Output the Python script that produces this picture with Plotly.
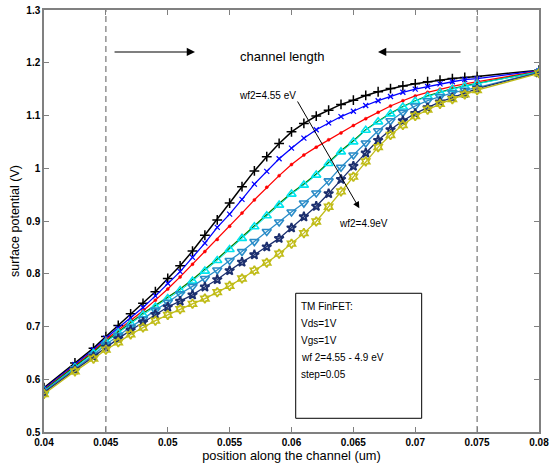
import plotly.graph_objects as go

x_pos = [0.04, 0.0425, 0.044, 0.045, 0.046, 0.047, 0.048, 0.049, 0.050, 0.051, 0.052,
         0.053, 0.054, 0.055, 0.056, 0.057, 0.058, 0.059, 0.060, 0.061, 0.062, 0.063,
         0.064, 0.065, 0.066, 0.067, 0.068, 0.069, 0.070, 0.071, 0.072, 0.073, 0.074,
         0.075, 0.08]

wf_455 = [0.584, 0.631, 0.659, 0.681, 0.702, 0.724, 0.744, 0.766, 0.791, 0.815, 0.843,
          0.873, 0.902, 0.934, 0.965, 0.995, 1.022, 1.047, 1.069, 1.085, 1.099, 1.110,
          1.121, 1.129, 1.138, 1.145, 1.151, 1.156, 1.160, 1.164, 1.167, 1.170, 1.172,
          1.174, 1.186]
wf_460 = [0.582, 0.628, 0.656, 0.678, 0.697, 0.716, 0.736, 0.758, 0.782, 0.804, 0.831,
          0.858, 0.888, 0.913, 0.941, 0.970, 0.994, 1.018, 1.038, 1.057, 1.073, 1.086,
          1.098, 1.108, 1.119, 1.128, 1.136, 1.144, 1.150, 1.155, 1.160, 1.164, 1.168,
          1.170, 1.185]
wf_465 = [0.580, 0.626, 0.653, 0.675, 0.693, 0.711, 0.730, 0.750, 0.771, 0.794, 0.818,
          0.842, 0.865, 0.890, 0.915, 0.940, 0.964, 0.986, 1.007, 1.025, 1.040, 1.054,
          1.067, 1.081, 1.094, 1.106, 1.118, 1.128, 1.137, 1.144, 1.150, 1.155, 1.160,
          1.164, 1.184]
wf_470 = [0.579, 0.624, 0.651, 0.672, 0.690, 0.708, 0.725, 0.740, 0.756, 0.771, 0.789,
          0.808, 0.828, 0.849, 0.870, 0.892, 0.913, 0.933, 0.953, 0.970, 0.989, 1.011,
          1.033, 1.052, 1.073, 1.089, 1.104, 1.117, 1.128, 1.137, 1.144, 1.151, 1.156,
          1.161, 1.183]
wf_475 = [0.578, 0.622, 0.649, 0.670, 0.688, 0.705, 0.722, 0.737, 0.753, 0.768, 0.786,
          0.805, 0.825, 0.846, 0.867, 0.889, 0.910, 0.930, 0.951, 0.968, 0.987, 1.009,
          1.031, 1.050, 1.072, 1.088, 1.103, 1.116, 1.127, 1.136, 1.143, 1.150, 1.155,
          1.160, 1.183]
wf_480 = [0.577, 0.620, 0.646, 0.666, 0.683, 0.699, 0.714, 0.731, 0.746, 0.762, 0.776,
          0.791, 0.807, 0.825, 0.842, 0.861, 0.880, 0.898, 0.917, 0.934, 0.953, 0.976,
          1.002, 1.025, 1.048, 1.071, 1.090, 1.106, 1.118, 1.128, 1.136, 1.143, 1.148,
          1.153, 1.182]
wf_485 = [0.575, 0.618, 0.643, 0.661, 0.677, 0.693, 0.708, 0.723, 0.737, 0.748, 0.760,
          0.775, 0.789, 0.806, 0.822, 0.836, 0.851, 0.867, 0.887, 0.908, 0.928, 0.952,
          0.979, 1.004, 1.029, 1.053, 1.073, 1.090, 1.104, 1.115, 1.126, 1.134, 1.142,
          1.151, 1.181]
wf_490 = [0.572, 0.615, 0.639, 0.656, 0.670, 0.685, 0.698, 0.711, 0.722, 0.733, 0.743,
          0.753, 0.765, 0.777, 0.791, 0.806, 0.821, 0.838, 0.857, 0.877, 0.899, 0.927,
          0.956, 0.984, 1.013, 1.040, 1.063, 1.082, 1.099, 1.111, 1.122, 1.131, 1.140,
          1.148, 1.180]

series = [
    ("wf2=4.55", wf_455, "#000000", "cross-thin", 7, 1.5, 1.5),
    ("wf2=4.60", wf_460, "#0000FF", "x-thin", 5, 1.3, 1.2),
    ("wf2=4.65", wf_465, "#FF0000", "circle", 3, 1.3, 0.5),
    ("wf2=4.70", wf_470, "#008000", None, 0, 1.3, 0),
    ("wf2=4.75", wf_475, "#00E5EE", "triangle-up-open", 8, 1.0, 1.6),
    ("wf2=4.80", wf_480, "#2A8CC8", "triangle-down-open", 8, 1.3, 1.6),
    ("wf2=4.85", wf_485, "#1B2E6E", "star-open", 7, 1.3, 1.8),
    ("wf2=4.90", wf_490, "#C0BC18", "hexagram-open", 7, 1.3, 1.7),
]

fig = go.Figure()
for name, ys, col, sym, size, lw, mlw in series:
    if sym is None:
        fig.add_trace(go.Scatter(x=x_pos, y=ys, mode="lines", name=name,
                                 line=dict(color=col, width=lw)))
    else:
        fig.add_trace(go.Scatter(x=x_pos, y=ys, mode="lines+markers", name=name,
                                 line=dict(color=col, width=lw),
                                 marker=dict(symbol=sym, size=size, color=col,
                                             line=dict(color=col, width=mlw))))

FONT = "Liberation Sans, Arial, sans-serif"

shapes = [
    dict(type="line", xref="x", yref="paper", x0=0.045, x1=0.045, y0=0, y1=1,
         line=dict(color="#808080", width=1.3, dash="6px,4px")),
    dict(type="line", xref="x", yref="paper", x0=0.075, x1=0.075, y0=0, y1=1,
         line=dict(color="#808080", width=1.3, dash="6px,4px")),
    dict(type="rect", xref="x", yref="y", x0=0.06034, x1=0.07052, y0=0.526, y1=0.763,
         line=dict(color="#000000", width=1), fillcolor="rgba(255,255,255,0)"),
]

annotations = [
    dict(x=0.0522, y=1.2204, ax=0.04558, ay=1.2204, xref="x", yref="y", axref="x", ayref="y",
         showarrow=True, arrowhead=2, arrowsize=1.5, arrowwidth=1.1, arrowcolor="#000000", text=""),
    dict(x=0.06699, y=1.2204, ax=0.07378, ay=1.2204, xref="x", yref="y", axref="x", ayref="y",
         showarrow=True, arrowhead=2, arrowsize=1.5, arrowwidth=1.1, arrowcolor="#000000", text=""),
    dict(x=0.05931, y=1.2128, xref="x", yref="y", text="channel length", showarrow=False,
         font=dict(family=FONT, size=13, color="#000000")),
    dict(x=0.06548, y=0.924, ax=0.06042, ay=1.1294, xref="x", yref="y", axref="x", ayref="y",
         showarrow=True, arrowhead=2, arrowsize=1.3, arrowwidth=1, arrowcolor="#000000", text=""),
    dict(x=0.05808, y=1.137, xref="x", yref="y", text="wf2=4.55 eV", showarrow=False,
         font=dict(family=FONT, size=10, color="#000000")),
    dict(x=0.0658, y=0.8957, xref="x", yref="y", text="wf2=4.9eV", showarrow=False,
         font=dict(family=FONT, size=10, color="#000000")),
]

box_lines = ["TM FinFET:", "Vds=1V", "Vgs=1V", "wf 2=4.55 - 4.9 eV", "step=0.05"]
box_py = [306.7, 323.0, 340.0, 357.0, 374.3]
for txt, py in zip(box_lines, box_py):
    yv = 0.5 + (432 - py) / 527.5
    annotations.append(dict(x=0.06063, y=yv, xref="x", yref="y", text=txt, showarrow=False,
                            xanchor="left", yanchor="middle",
                            font=dict(family=FONT, size=10, color="#000000")))

fig.update_layout(
    width=551, height=470,
    margin=dict(l=44, r=12, t=10, b=38),
    paper_bgcolor="#FFFFFF", plot_bgcolor="#FFFFFF",
    showlegend=False, hovermode=False,
    shapes=shapes, annotations=annotations,
    font=dict(family=FONT, size=11, color="#000000"),
)
fig.update_xaxes(range=[0.04, 0.08], tickvals=[0.04, 0.045, 0.05, 0.055, 0.06, 0.065, 0.07, 0.075, 0.08],
                 ticktext=["0.04", "0.045", "0.05", "0.055", "0.06", "0.065", "0.07", "0.075", "0.08"],
                 showgrid=False, zeroline=False, showline=True, linecolor="#808080", linewidth=1.5,
                 mirror="ticks", ticks="inside", ticklen=5, tickcolor="#808080", automargin=False,
                 ticklabeloverflow="allow",
                 tickfont=dict(family=FONT, size=10, color="#000000", weight="bold"),
                 title=dict(text="position along the channel (um)", standoff=4,
                            font=dict(family=FONT, size=12.8, color="#000000")))
fig.update_yaxes(range=[0.5, 1.3], tickvals=[0.5, 0.6, 0.7, 0.8, 0.9, 1.0, 1.1, 1.2, 1.3],
                 ticktext=["0.5", "0.6", "0.7", "0.8", "0.9", "1", "1.1", "1.2", "1.3"],
                 showgrid=False, zeroline=False, showline=True, linecolor="#808080", linewidth=1.5,
                 mirror="ticks", ticks="inside", ticklen=5, tickcolor="#808080", automargin=False,
                 ticklabeloverflow="allow",
                 tickfont=dict(family=FONT, size=10, color="#000000", weight="bold"),
                 title=dict(text="surface potential (V)", standoff=4,
                            font=dict(family=FONT, size=12.5, color="#000000")))

# remove the default 8px page margin so the figure sits at the window's corner
fig.write_html("out.html", config={"displayModeBar": False},
               post_script="document.body.style.margin='0px';")
